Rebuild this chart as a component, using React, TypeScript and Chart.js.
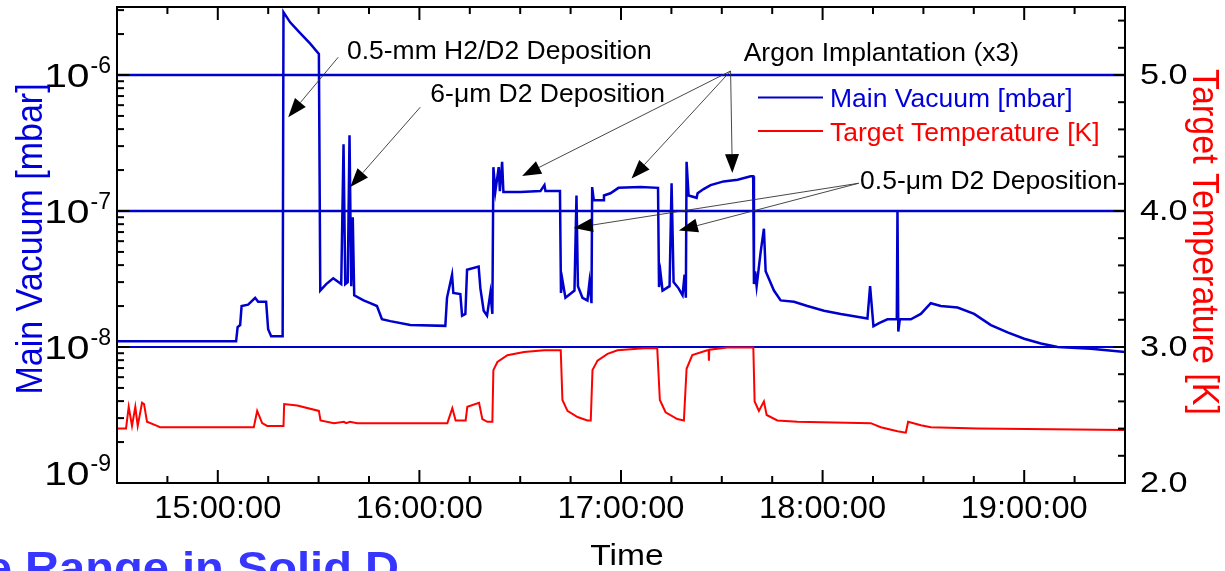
import { useEffect, useRef } from 'react';
import { Chart, registerables } from 'chart.js';

Chart.register(...registerables);

const FONT = '"Liberation Sans", Arial, Helvetica, sans-serif';
const BLUE = '#0000CC';
const BLUE_TEXT = '#0000DD';
const RED = '#FF0000';

// Axis ranges and tick values
const TIME_MIN = '14:30:00';
const TIME_MAX = '19:30:00';
const TIME_TICKS = [15, 16, 17, 18, 19];
const VAC_DECADES = [-9, -8, -7, -6];
const VAC_MAX = 3.162e-6;
const TEMP_TICKS = [2, 3, 4, 5];
const TEMP_MAX = 5.5;

// Main vacuum pressure log [mbar]
const VAC_TIME = [
  '14:30:00', '15:05:27', '15:05:54', '15:06:39', '15:07:05', '15:09:02', '15:11:07', '15:12:00', '15:14:23', '15:14:59', '15:15:53', '15:19:18',
  '15:19:33', '15:21:32', '15:24:31', '15:27:30', '15:30:05', '15:30:30', '15:32:16', '15:34:21', '15:36:44', '15:37:25', '15:37:56', '15:38:40', '15:39:12', '15:39:43', '15:40:10', '15:40:36',
  '15:43:23', '15:45:22', '15:47:22', '15:48:51', '15:51:20', '15:57:17', '16:07:43', '16:08:13', '16:09:43', '16:10:06', '16:12:11', '16:12:42', '16:13:41', '16:14:11', '16:17:38', '16:18:09', '16:19:08', '16:20:08', '16:21:07', '16:21:43',
  '16:22:01', '16:22:37', '16:23:36', '16:23:57', '16:24:37', '16:25:00', '16:30:04', '16:36:01', '16:37:13', '16:37:31', '16:41:50',
  '16:42:08', '16:42:34', '16:43:28', '16:46:09', '16:46:45', '16:47:11', '16:48:32', '16:50:01', '16:50:37', '16:51:13',
  '16:51:25', '16:51:54', '16:54:47', '16:54:56', '16:56:52', '16:59:15', '17:05:49', '17:11:01',
  '17:11:19', '17:11:46', '17:12:22', '17:14:27', '17:15:03', '17:15:39', '17:17:08', '17:18:19', '17:18:55', '17:19:18',
  '17:19:31', '17:20:07', '17:22:30', '17:22:48', '17:24:35', '17:26:40', '17:30:32', '17:34:43', '17:38:35', '17:39:20',
  '17:39:34', '17:39:55', '17:40:22', '17:41:34', '17:42:32', '17:43:03', '17:45:31', '17:47:31', '17:51:29', '17:55:28', '18:00:25', '18:05:24',
  '18:13:21', '18:14:08', '18:15:08', '18:16:48', '18:19:18', '18:22:05', '18:22:17', '18:22:32', '18:22:59', '18:26:15', '18:29:14', '18:32:12',
  '18:35:11', '18:40:10', '18:45:06', '18:50:05', '18:55:03', '19:00:00', '19:04:59', '19:09:57', '19:19:52', '19:30:00',
];
const VAC_MBAR = [
  1.1e-8, 1.1e-8, 1.4e-8, 1.45e-8, 2.0e-8, 2.05e-8, 2.3e-8, 2.15e-8, 2.15e-8, 1.35e-8, 1.2e-8, 1.2e-8,
  2.9e-6, 2.44e-6, 2.03e-6, 1.7e-6, 1.43e-6, 2.6e-8, 2.9e-8, 3.2e-8, 2.9e-8, 3.1e-7, 2.9e-8, 3.0e-8, 3.6e-7, 2.8e-8, 9e-8, 2.4e-8,
  2.2e-8, 2.1e-8, 2.0e-8, 1.6e-8, 1.55e-8, 1.45e-8, 1.43e-8, 2.3e-8, 3.4e-8, 2.5e-8, 2.45e-8, 1.7e-8, 1.75e-8, 3.7e-8, 3.9e-8, 2.7e-8, 1.85e-8, 1.7e-8, 2.5e-8, 1.75e-8,
  2.1e-7, 1.4e-7, 2.1e-7, 1.4e-7, 2.3e-7, 1.38e-7, 1.38e-7, 1.4e-7, 1.55e-7, 1.4e-7, 1.4e-7,
  2.5e-8, 3.1e-8, 2.3e-8, 2.6e-8, 1.3e-7, 2.8e-8, 2.3e-8, 2.2e-8, 3.0e-8, 2.1e-8,
  1.5e-7, 1.2e-7, 1.2e-7, 1.3e-7, 1.35e-7, 1.48e-7, 1.5e-7, 1.48e-7,
  2.76e-8, 3.5e-8, 2.6e-8, 2.8e-8, 1.6e-7, 3.0e-8, 2.7e-8, 2.4e-8, 3.4e-8, 2.3e-8,
  2.3e-7, 1.3e-7, 1.25e-7, 1.35e-7, 1.45e-7, 1.55e-7, 1.65e-7, 1.7e-7, 1.8e-7, 1.8e-7,
  2.9e-8, 3.6e-8, 2.8e-8, 5.0e-8, 7.4e-8, 3.6e-8, 2.6e-8, 2.2e-8, 2.15e-8, 2.0e-8, 1.85e-8, 1.75e-8,
  1.62e-8, 2.8e-8, 1.42e-8, 1.5e-8, 1.6e-8, 1.6e-8, 1.0e-7, 1.3e-8, 1.6e-8, 1.6e-8, 1.75e-8, 2.1e-8,
  2.0e-8, 1.95e-8, 1.75e-8, 1.45e-8, 1.28e-8, 1.15e-8, 1.06e-8, 1.0e-8, 0.97e-8, 0.92e-8,
];

// Target temperature log [K]
const TEMP_TIME = [
  '14:30:00', '14:32:41', '14:33:29', '14:34:28', '14:35:27', '14:36:10', '14:37:27', '14:38:03', '14:38:56', '14:41:55', '14:42:49',
  '15:10:43', '15:11:43', '15:13:12', '15:14:41', '15:19:33', '15:19:45', '15:23:38', '15:30:05', '15:30:34', '15:34:34', '15:37:32', '15:38:13', '15:39:19', '15:41:30',
  '16:08:19', '16:09:48', '16:10:47', '16:13:46', '16:14:16', '16:17:45', '16:18:44', '16:20:14', '16:21:43',
  '16:22:01', '16:23:13', '16:26:11', '16:31:10', '16:37:07', '16:42:04', '16:42:34', '16:44:04', '16:47:03', '16:50:01', '16:51:00',
  '16:51:31', '16:53:00', '16:55:59', '16:58:58', '17:06:48', '17:10:47', '17:11:34', '17:13:16', '17:16:45', '17:18:43',
  '17:19:31', '17:21:13', '17:25:41', '17:26:04', '17:26:10', '17:26:17', '17:31:38', '17:39:23', '17:39:46', '17:41:03', '17:42:32', '17:43:21', '17:46:32', '17:52:30',
  '18:14:20', '18:17:19', '18:22:17', '18:24:46', '18:25:27', '18:29:14', '18:32:12', '18:46:07', '19:30:00',
];
const TEMP_K = [
  2.40, 2.40, 2.56, 2.42, 2.56, 2.42, 2.59, 2.58, 2.45, 2.42, 2.41,
  2.41, 2.53, 2.44, 2.42, 2.42, 2.58, 2.57, 2.53, 2.46, 2.44, 2.45, 2.44, 2.45, 2.44,
  2.44, 2.55, 2.46, 2.46, 2.56, 2.59, 2.47, 2.45, 2.45,
  2.83, 2.89, 2.94, 2.963, 2.976, 2.976, 2.61, 2.53, 2.485, 2.46, 2.46,
  2.83, 2.90, 2.95, 2.976, 2.99, 2.99, 2.61, 2.52, 2.47, 2.46,
  2.84, 2.94, 2.976, 2.976, 2.90, 2.98, 2.996, 2.996, 2.60, 2.53, 2.60, 2.50, 2.46, 2.45,
  2.44, 2.41, 2.38, 2.37, 2.45, 2.425, 2.41, 2.40, 2.39,
];

// Event notes: text anchored at its left baseline, arrows from tail to tip
const NOTE_LABELS = ['0.5-mm H2/D2 Deposition', '6-μm D2 Deposition', 'Argon Implantation (x3)', '0.5-μm D2 Deposition'];
const NOTE_TIME = ['15:38:26', '16:03:15', '17:36:30', '18:11:09'];
const NOTE_MBAR = [1.3e-6, 6.3e-7, 1.26e-6, 1.46e-7];
const ARROW_FROM_TIME = ['15:35:50', '16:00:16', '17:32:37', '17:32:37', '17:32:37', '18:10:45', '18:10:45'];
const ARROW_FROM_MBAR = [1.35e-6, 5.8e-7, 1.07e-6, 1.07e-6, 1.07e-6, 1.6e-7, 1.6e-7];
const ARROW_TO_TIME = ['15:20:57', '15:39:25', '16:30:34', '17:03:08', '17:33:08', '16:45:56', '17:17:13'];
const ARROW_TO_MBAR = [4.9e-7, 1.5e-7, 1.81e-7, 1.73e-7, 1.9e-7, 7.5e-8, 7.2e-8];

const SERIES_LABELS = ['Main Vacuum [mbar]', 'Target Temperature [K]'];

const hours = (t: string) => {
  const [h, m, s] = t.split(':').map(Number);
  return h + m / 60 + (s || 0) / 3600;
};

function drawText(
  ctx: CanvasRenderingContext2D,
  str: string,
  x: number,
  y: number,
  size: number,
  color: string,
  align: CanvasTextAlign = 'left',
  sx = 1,
  sy = 1,
  rot = 0,
  weight = 'normal',
) {
  ctx.save();
  ctx.translate(x, y);
  if (rot) ctx.rotate(rot);
  ctx.scale(sx, sy);
  ctx.font = `${weight} ${size}px ${FONT}`;
  ctx.fillStyle = color;
  ctx.textAlign = align;
  ctx.textBaseline = 'alphabetic';
  ctx.fillText(str, 0, 0);
  ctx.restore();
}

function drawArrow(ctx: CanvasRenderingContext2D, x0: number, y0: number, x1: number, y1: number) {
  const ang = Math.atan2(y1 - y0, x1 - x0);
  const len = 19;
  const half = 7;
  const bx = x1 - len * Math.cos(ang);
  const by = y1 - len * Math.sin(ang);
  ctx.save();
  ctx.strokeStyle = '#333';
  ctx.lineWidth = 0.9;
  ctx.beginPath();
  ctx.moveTo(x0, y0);
  ctx.lineTo(bx, by);
  ctx.stroke();
  ctx.fillStyle = '#000';
  ctx.beginPath();
  ctx.moveTo(x1, y1);
  ctx.lineTo(bx + half * Math.sin(ang), by - half * Math.cos(ang));
  ctx.lineTo(bx - half * Math.sin(ang), by + half * Math.cos(ang));
  ctx.closePath();
  ctx.fill();
  ctx.restore();
}

const decorations = {
  id: 'decorations',
  beforeDatasetsDraw(chart: any) {
    const { ctx, chartArea: a, scales } = chart;
    const yv = scales.yVac;
    ctx.save();
    ctx.strokeStyle = BLUE;
    VAC_DECADES.slice(1).forEach((d) => {
      const py = yv.getPixelForValue(Math.pow(10, d));
      ctx.lineWidth = d === -8 ? 2 : 2.6;
      ctx.beginPath();
      ctx.moveTo(a.left, py);
      ctx.lineTo(a.right, py);
      ctx.stroke();
    });
    ctx.restore();
  },
  afterDraw(chart: any) {
    const { ctx, chartArea: a, scales } = chart;
    const x = scales.x;
    const yv = scales.yVac;
    const yt = scales.yTemp;

    ctx.save();
    ctx.strokeStyle = '#000';
    ctx.lineWidth = 2;
    ctx.lineCap = 'butt';

    // inward tick marks on the time axes (bottom and top), every 15 minutes
    const t0 = hours(TIME_MIN);
    const t1 = hours(TIME_MAX);
    for (let i = 1; t0 + i * 0.25 < t1 - 1e-6; i++) {
      const t = t0 + i * 0.25;
      const px = x.getPixelForValue(t);
      const major = Math.abs(t - Math.round(t)) < 1e-6;
      const len = major ? 13 : 7;
      ctx.beginPath();
      ctx.moveTo(px, a.bottom);
      ctx.lineTo(px, a.bottom - len);
      ctx.moveTo(px, a.top);
      ctx.lineTo(px, a.top + len);
      ctx.stroke();
    }

    // log ticks on the pressure axis
    VAC_DECADES.forEach((d) => {
      for (let k = 1; k <= 9; k++) {
        const v = k * Math.pow(10, d);
        if (v > VAC_MAX) break;
        const py = yv.getPixelForValue(v);
        ctx.beginPath();
        ctx.moveTo(a.left, py);
        ctx.lineTo(a.left + (k === 1 ? 12 : 7), py);
        ctx.stroke();
      }
    });

    // temperature ticks every 0.2 K
    for (let i = 1; TEMP_TICKS[0] + i * 0.2 < TEMP_MAX - 1e-6; i++) {
      const py = yt.getPixelForValue(TEMP_TICKS[0] + i * 0.2);
      const len = i % 5 === 0 ? 12 : 7;
      ctx.beginPath();
      ctx.moveTo(a.right, py);
      ctx.lineTo(a.right - len, py);
      ctx.stroke();
    }

    // frame
    ctx.strokeRect(a.left, a.top, a.right - a.left, a.bottom - a.top);
    ctx.restore();

    // time tick labels
    TIME_TICKS.forEach((h) => {
      drawText(ctx, `${h}:00:00`, x.getPixelForValue(h), a.bottom + 35, 32, '#000', 'center', 1.02);
    });

    // pressure tick labels: 10 with a superscript exponent
    VAC_DECADES.forEach((d) => {
      const py = yv.getPixelForValue(Math.pow(10, d));
      const base = Math.min(py + 12, a.bottom + 2);
      const right = a.left - 6;
      ctx.save();
      ctx.font = `23px ${FONT}`;
      const ew = ctx.measureText(String(d)).width;
      ctx.restore();
      drawText(ctx, String(d), right, base - 14, 23, '#000', 'right');
      drawText(ctx, '10', right - ew - 1, base, 34, '#000', 'right', 1.2);
    });

    // temperature tick labels
    TEMP_TICKS.forEach((v) => {
      const py = yt.getPixelForValue(v);
      drawText(ctx, v.toFixed(1), a.right + 15, py + 9, 29, '#000', 'left', 1.18);
    });

    // axis titles
    drawText(ctx, 'Time', (a.left + a.right) / 2 + 6, a.bottom + 82, 30, '#000', 'center', 1.12);
    drawText(ctx, SERIES_LABELS[0], 42, (a.top + a.bottom) / 2 - 6, 34, BLUE_TEXT, 'center', 1, 1.1, -Math.PI / 2);
    drawText(ctx, SERIES_LABELS[1], 1193, (a.top + a.bottom) / 2 - 3, 34, RED, 'center', 1, 1.1, Math.PI / 2);

    // event notes
    NOTE_LABELS.forEach((label, i) => {
      drawText(ctx, label, x.getPixelForValue(hours(NOTE_TIME[i])), yv.getPixelForValue(NOTE_MBAR[i]), 25, '#000', 'left', 1.06);
    });
    ARROW_FROM_TIME.forEach((t, i) => {
      drawArrow(
        ctx,
        x.getPixelForValue(hours(t)),
        yv.getPixelForValue(ARROW_FROM_MBAR[i]),
        x.getPixelForValue(hours(ARROW_TO_TIME[i])),
        yv.getPixelForValue(ARROW_TO_MBAR[i]),
      );
    });

    // legend
    const legendColors = [BLUE, RED];
    const legendText = [BLUE_TEXT, RED];
    SERIES_LABELS.forEach((label, i) => {
      const ly = 97.5 + i * 33.5;
      ctx.save();
      ctx.strokeStyle = legendColors[i];
      ctx.lineWidth = 2;
      ctx.beginPath();
      ctx.moveTo(758, ly);
      ctx.lineTo(823, ly);
      ctx.stroke();
      ctx.restore();
      drawText(ctx, label, 830, ly + 9.5, 25, legendText[i], 'left', 1.06);
    });

    // slide heading below the chart
    ctx.save();
    ctx.font = `bold 44px ${FONT}`;
    const lead = ctx.measureText('e ').width * 1.07;
    ctx.restore();
    drawText(ctx, 'e Range in Solid D', 25 - lead, 583, 44, '#3636FF', 'left', 1.07, 1, 0, 'bold');
  },
};

export default function App() {
  const canvasRef = useRef<HTMLCanvasElement | null>(null);

  useEffect(() => {
    const canvas = canvasRef.current;
    if (!canvas) return;
    const vacPoints = VAC_TIME.map((t, i) => ({ x: hours(t), y: VAC_MBAR[i] }));
    const tempPoints = TEMP_TIME.map((t, i) => ({ x: hours(t), y: TEMP_K[i] }));

    const chart = new Chart(canvas, {
      type: 'line',
      data: {
        datasets: [
          {
            label: SERIES_LABELS[0],
            data: vacPoints,
            yAxisID: 'yVac',
            borderColor: BLUE,
            borderWidth: 2.5,
            pointRadius: 0,
            tension: 0,
          },
          {
            label: SERIES_LABELS[1],
            data: tempPoints,
            yAxisID: 'yTemp',
            borderColor: RED,
            borderWidth: 2,
            pointRadius: 0,
            tension: 0,
          },
        ],
      },
      options: {
        animation: false,
        responsive: false,
        devicePixelRatio: 1,
        layout: { padding: { left: 117, right: 100, top: 7, bottom: 88 } },
        scales: {
          x: { type: 'linear', min: hours(TIME_MIN), max: hours(TIME_MAX), display: false },
          yVac: { type: 'logarithmic', position: 'left', min: Math.pow(10, VAC_DECADES[0]), max: VAC_MAX, display: false },
          yTemp: { type: 'linear', position: 'right', min: TEMP_TICKS[0], max: TEMP_MAX, display: false },
        },
        plugins: {
          legend: { display: false },
          tooltip: { enabled: false },
        },
      },
      plugins: [decorations],
    } as any);

    return () => chart.destroy();
  }, []);

  return (
    <div style={{ position: 'fixed', left: 0, top: 0, width: 1225, height: 571, background: '#fff', overflow: 'hidden' }}>
      <canvas ref={canvasRef} width={1225} height={571} style={{ display: 'block' }} />
    </div>
  );
}
